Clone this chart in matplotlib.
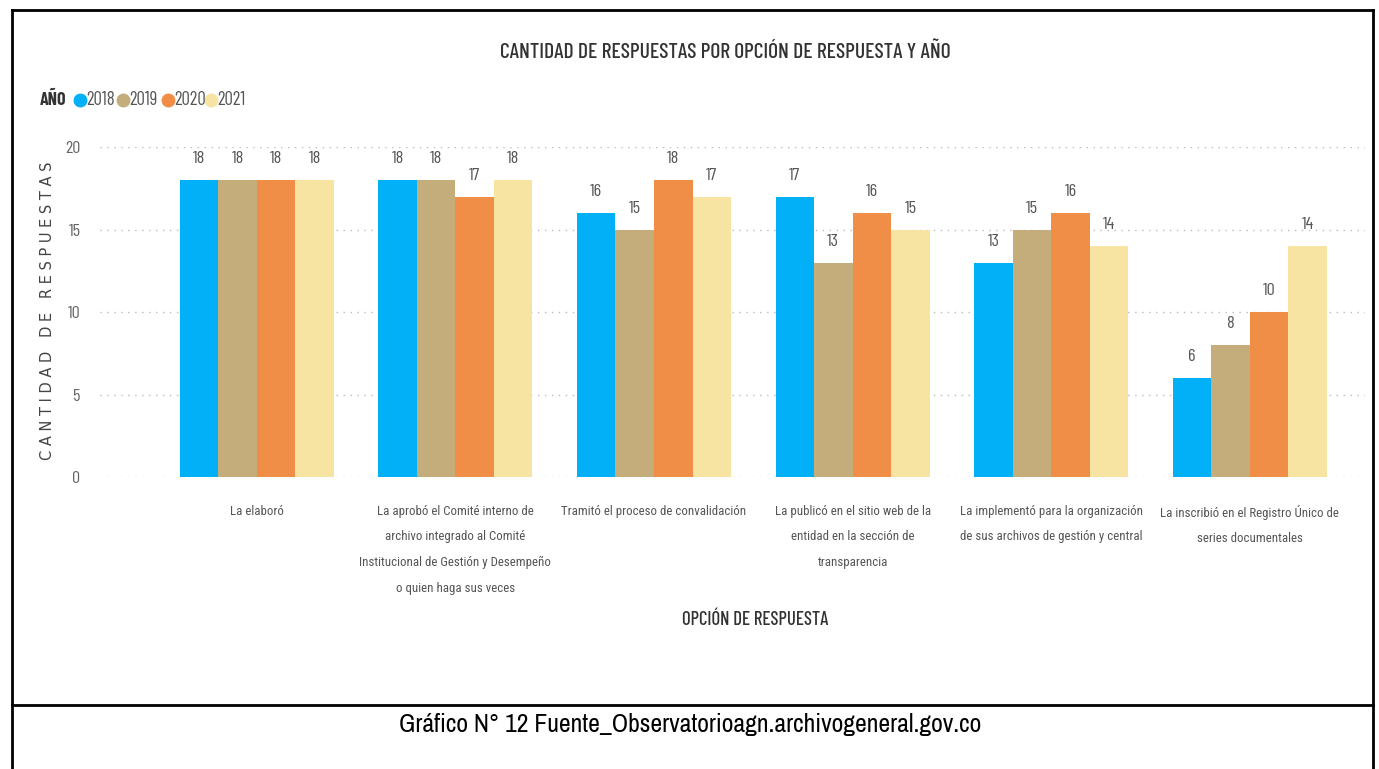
import matplotlib
matplotlib.use("Agg")
import matplotlib.pyplot as plt
from matplotlib import font_manager as fm
from matplotlib.lines import Line2D
import numpy as np

_names = {f.name for f in fm.fontManager.ttflist}
def pick(*cands):
    for c in cands:
        if c in _names:
            return c
    return "DejaVu Sans"

f_title = pick("Barlow Condensed", "Barlow Semi Condensed", "Roboto Condensed", "Open Sans")
f_tick = pick("Roboto Condensed", "Open Sans Condensed", "Open Sans")
f_cap = pick("Archivo Narrow", "PT Sans Narrow", "Liberation Sans")

categories = [
    "La elaboró",
    "La aprobó el Comité interno de\narchivo integrado al Comité\nInstitucional de Gestión y Desempeño\no quien haga sus veces",
    "Tramitó el proceso de convalidación",
    "La publicó en el sitio web de la\nentidad en la sección de\ntransparencia",
    "La implementó para la organización\nde sus archivos de gestión y central",
    "La inscribió en el Registro Único de\nseries documentales",
]
years = ["2018", "2019", "2020", "2021"]
v2018 = [18, 18, 16, 17, 13, 6]
v2019 = [18, 18, 15, 13, 15, 8]
v2020 = [18, 17, 18, 16, 16, 10]
v2021 = [18, 18, 17, 15, 14, 14]
series = [v2018, v2019, v2020, v2021]
colors = ["#01B0F6", "#C4AD7A", "#F08E48", "#F8E4A2"]
yticks = [0, 5, 10, 15, 20]

W, H = 1379, 769
fig = plt.figure(figsize=(W / 100, H / 100), dpi=100)
ax = fig.add_axes([0.0725, 0.3797, 0.9173, 0.4291])

x = np.arange(len(categories))
w = 0.194
for i, (vals, c) in enumerate(zip(series, colors)):
    pos = x + (i - 1.5) * w
    ax.bar(pos, vals, width=w, color=c, edgecolor="none", zorder=2)
    for p, v in zip(pos, vals):
        ax.annotate(str(v), (p, v), xytext=(0, 10), textcoords="offset points",
                    ha="center", va="bottom", fontsize=13, color="#555555",
                    family=f_title)

ax.set_xlim(-0.79, 5.58)
ax.set_ylim(0, 20)
ax.set_yticks(yticks)
ax.set_yticklabels([str(t) for t in yticks], family=f_title, fontsize=13, color="#666666")
ax.yaxis.grid(True, linestyle=(0, (1, 4)), color="#bbbbbb", linewidth=1, zorder=0)
ax.set_xticks(x)
ax.set_xticklabels(categories, fontsize=9.3, color="#555555", family=f_tick,
                   fontweight="normal", linespacing=2.25)
ax.tick_params(axis="both", length=0)
ax.tick_params(axis="x", pad=20)
ax.tick_params(axis="y", pad=14)
for s in ax.spines.values():
    s.set_visible(False)

fig.text(47 / W, 1 - 311 / H, "C A N T I D A D   D E   R E S P U E S T A S", rotation=90,
         ha="center", va="center", fontsize=10.5, color="#444444")
fig.text(755 / W, 1 - 620 / H, "OPCIÓN DE RESPUESTA", ha="center", va="center",
         fontsize=13.5, color="#333333", family=f_title, fontweight="medium")
fig.text(725 / W, 1 - 52 / H, "CANTIDAD DE RESPUESTAS POR OPCIÓN DE RESPUESTA Y AÑO",
         ha="center", va="center", fontsize=15.5, color="#333333", family=f_title,
         fontweight="medium")

# legend
ly = 1 - 100 / H
fig.text(40 / W, ly, "AÑO", ha="left", va="center", fontsize=13,
         fontweight="bold", color="#333333", family=f_title)
lx = [80, 123, 168, 211]
for xx, yr, c in zip(lx, years, colors):
    fig.add_artist(Line2D([xx / W], [ly], marker="o", markersize=9, color=c,
                          linestyle="none", transform=fig.transFigure))
    fig.text((xx + 6) / W, ly, yr, ha="left", va="center", fontsize=13.5,
             color="#555555", family=f_title)

# frame
frame_kw = dict(color="black", linewidth=2, transform=fig.transFigure)
fig.add_artist(Line2D([12 / W, 1373 / W], [1 - 10 / H] * 2, **frame_kw))
fig.add_artist(Line2D([12 / W] * 2, [1 - 10 / H, 0], **frame_kw))
fig.add_artist(Line2D([1373 / W] * 2, [1 - 10 / H, 0], **frame_kw))
fig.add_artist(Line2D([12 / W, 1373 / W], [1 - 705 / H] * 2, **frame_kw))
fig.text(690 / W, 1 - 725 / H, "Gráfico N° 12 Fuente_Observatorioagn.archivogeneral.gov.co",
         ha="center", va="center", fontsize=18.5, color="black", family=f_cap)

fig.savefig("out.png", dpi=100)
